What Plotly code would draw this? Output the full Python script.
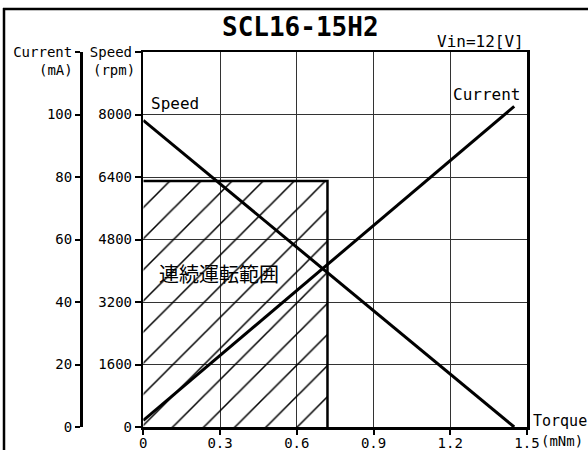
import plotly.graph_objects as go

# ---- data ----
torque = [0.0, 1.45]                 # mNm
speed = [7850, 0]                    # rpm
current = [2.1, 102.6]               # mA
region_torque = [0, 0.72, 0.72, 0, 0]
region_speed = [0, 0, 6300, 6300, 0]
x_ticks = [0, 0.3, 0.6, 0.9, 1.2, 1.5]
x_ticktext = ["0", "0.3", "0.6", "0.9", "1.2", "1.5"]
speed_ticks = [0, 1600, 3200, 4800, 6400, 8000, 9600]
speed_ticktext = ["0", "1600", "3200", "4800", "6400", "8000", "Speed"]
current_ticks = [0, 20, 40, 60, 80, 100, 120]
current_ticktext = ["0", "20", "40", "60", "80", "100", "Current"]

W, H = 588, 450


def px(x):
    return x / W


def py(y):
    return (H - y) / H


MONO = "DejaVu Sans Mono"
fig = go.Figure()

fig.add_trace(go.Scatter(
    x=region_torque, y=region_speed, mode="lines", fill="toself",
    fillcolor="rgba(0,0,0,0)", line=dict(width=0, color="rgba(0,0,0,0)"),
    fillpattern=dict(shape="/", fgcolor="black", fgopacity=1,
                     bgcolor="rgba(0,0,0,0)", size=22, solidity=0.07),
    hoverinfo="skip", showlegend=False))
fig.add_trace(go.Scatter(
    x=region_torque[1:4], y=region_speed[1:4], mode="lines",
    line=dict(color="black", width=2.5), showlegend=False))
fig.add_trace(go.Scatter(
    x=torque, y=speed, mode="lines", line=dict(color="black", width=3),
    showlegend=False))
fig.add_trace(go.Scatter(
    x=torque, y=current, mode="lines", yaxis="y2",
    line=dict(color="black", width=3), showlegend=False))

fig.update_layout(
    width=W, height=H, margin=dict(l=0, r=0, t=0, b=0, autoexpand=False),
    paper_bgcolor="white", plot_bgcolor="white",
    font=dict(family=MONO, size=14, color="black"),
    xaxis=dict(domain=[px(143.3), px(527)], range=[0, 1.5], tickvals=x_ticks,
               ticktext=x_ticktext, showgrid=True, gridcolor="#333",
               gridwidth=1, zeroline=False, showline=True, mirror=True,
               linecolor="black", linewidth=2.5, ticks="outside", ticklen=5,
               tickwidth=2, tickcolor="black", automargin=False,
               ticklabelstandoff=-3,
               tickfont=dict(family=MONO, size=14)),
    yaxis=dict(domain=[py(427), py(52)], range=[0, 9600],
               tickvals=speed_ticks, ticktext=speed_ticktext,
               showgrid=True, gridcolor="#333", gridwidth=1, zeroline=False,
               showline=True, mirror=True, linecolor="black", linewidth=2.5,
               ticks="outside", ticklen=6, tickwidth=2, tickcolor="black",
               automargin=False, tickfont=dict(family=MONO, size=14)),
    yaxis2=dict(range=[0, 120], tickvals=current_ticks,
                ticktext=current_ticktext, overlaying="y", anchor="free",
                side="left", position=px(81), showgrid=False, zeroline=False,
                showline=True, linecolor="black", linewidth=2.5,
                ticks="outside", ticklen=5, tickwidth=2, tickcolor="black",
                automargin=False, tickfont=dict(family=MONO, size=14)),
)

annotations = [
    dict(text="<b>SCL16-15H2</b>", x=px(300), y=py(27), xanchor="center",
         yanchor="middle", font=dict(family=MONO, size=26)),
    dict(text="Vin=12[V]", x=px(526), y=py(41), xanchor="right",
         yanchor="middle", font=dict(family=MONO, size=16)),
    dict(text="(mA)", x=px(75), y=py(70), xanchor="right", yanchor="middle",
         font=dict(family=MONO, size=14)),
    dict(text="(rpm)", x=px(137), y=py(70), xanchor="right", yanchor="middle",
         font=dict(family=MONO, size=14)),
    dict(text="Speed", x=px(149), y=py(103), xanchor="left", yanchor="middle",
         font=dict(family=MONO, size=16)),
    dict(text="Current", x=px(451), y=py(94), xanchor="left",
         yanchor="middle", font=dict(family=MONO, size=16)),
    dict(text="連続運転範囲", x=px(157), y=py(273), xanchor="left",
         yanchor="middle", font=dict(family="Noto Sans CJK JP", size=20)),
    dict(text="Torque", x=px(531), y=py(421), xanchor="left",
         yanchor="middle", font=dict(family=MONO, size=15)),
    dict(text="(mNm)", x=px(539), y=py(441), xanchor="left",
         yanchor="middle", font=dict(family=MONO, size=14)),
]
for a in annotations:
    a.update(xref="paper", yref="paper", showarrow=False)
fig.update_layout(annotations=annotations)

# outer frame of the figure: only the top and left edges are in view
fig.add_shape(type="line", xref="paper", yref="paper",
              x0=px(3), x1=1, y0=py(9), y1=py(9),
              line=dict(color="black", width=2.5), layer="above")
fig.add_shape(type="line", xref="paper", yref="paper",
              x0=px(4), x1=px(4), y0=py(8), y1=0,
              line=dict(color="black", width=2.5), layer="above")

fig.write_html(
    "out.html",
    config={"displayModeBar": False, "staticPlot": True},
    post_script="document.body.style.margin='0';")
